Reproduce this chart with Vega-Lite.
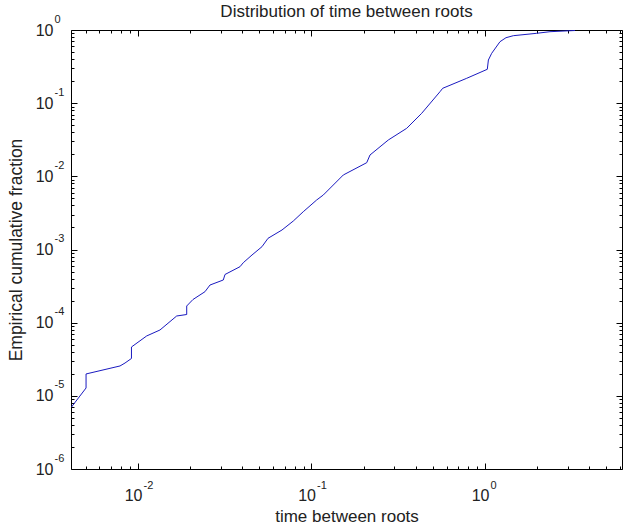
{
  "$schema": "https://vega.github.io/schema/vega-lite/v6.json",
  "width": 551,
  "height": 439,
  "autosize": {"type": "none"},
  "padding": {"left": 71, "top": 30, "right": 1, "bottom": 57},
  "background": "white",
  "config": {
    "view": {"stroke": null},
    "font": "Liberation Sans",
    "axis": {
      "domainColor": "#000000",
      "domainWidth": 1,
      "tickColor": "#000000",
      "tickWidth": 1,
      "grid": false,
      "labelFont": "Liberation Sans",
      "labelColor": "#222222",
      "labelFlush": false,
      "labelOverlap": false,
      "titleFont": "Liberation Sans",
      "titleFontWeight": "normal",
      "titleColor": "#222222"
    }
  },
  "title": {
    "text": "Distribution of time between roots",
    "font": "Liberation Sans",
    "fontSize": 17,
    "fontWeight": "normal",
    "color": "#222222",
    "anchor": "middle",
    "frame": "group",
    "offset": -8
  },
  "data": {
    "values": [
      {"t": 0.00414, "F": 0.00000704},
      {"t": 0.00502, "F": 0.0000128},
      {"t": 0.00502, "F": 0.0000199},
      {"t": 0.00788, "F": 0.0000256},
      {"t": 0.00842, "F": 0.0000281},
      {"t": 0.00917, "F": 0.0000324},
      {"t": 0.00917, "F": 0.0000465},
      {"t": 0.01122, "F": 0.0000658},
      {"t": 0.01339, "F": 0.0000794},
      {"t": 0.01671, "F": 0.0001234},
      {"t": 0.01909, "F": 0.0001293},
      {"t": 0.01909, "F": 0.000169},
      {"t": 0.02075, "F": 0.0002074},
      {"t": 0.02433, "F": 0.000265},
      {"t": 0.026, "F": 0.000327},
      {"t": 0.03102, "F": 0.000383},
      {"t": 0.03173, "F": 0.0004555},
      {"t": 0.03872, "F": 0.000582},
      {"t": 0.04045, "F": 0.00066},
      {"t": 0.0454, "F": 0.000841},
      {"t": 0.05184, "F": 0.001092},
      {"t": 0.05615, "F": 0.001422},
      {"t": 0.06761, "F": 0.001848},
      {"t": 0.07856, "F": 0.002452},
      {"t": 0.08969, "F": 0.003286},
      {"t": 0.1071, "F": 0.00475},
      {"t": 0.117, "F": 0.00556},
      {"t": 0.1525, "F": 0.01043},
      {"t": 0.2081, "F": 0.01536},
      {"t": 0.2174, "F": 0.01957},
      {"t": 0.2772, "F": 0.03138},
      {"t": 0.3538, "F": 0.04534},
      {"t": 0.4317, "F": 0.0727},
      {"t": 0.5503, "F": 0.1435},
      {"t": 0.5705, "F": 0.1597},
      {"t": 0.7844, "F": 0.2187},
      {"t": 1.031, "F": 0.2904},
      {"t": 1.046, "F": 0.389},
      {"t": 1.093, "F": 0.4803},
      {"t": 1.22, "F": 0.6921},
      {"t": 1.321, "F": 0.7846},
      {"t": 1.456, "F": 0.8357},
      {"t": 1.986, "F": 0.9014},
      {"t": 2.369, "F": 0.9479},
      {"t": 3.302, "F": 0.984}
    ]
  },
  "layer": [
    {
      "mark": {"type": "line", "color": "#1a1ac0", "strokeWidth": 1, "interpolate": "linear"},
      "encoding": {
        "x": {
          "field": "t",
          "type": "quantitative",
          "scale": {"type": "log", "domain": [0.004111, 6.16], "nice": false, "zero": false},
          "axis": {
            "orient": "bottom",
            "title": "time between roots",
            "titleFontSize": 17,
            "titlePadding": 2,
            "values": [0.005, 0.006, 0.007, 0.008, 0.009, 0.01, 0.02, 0.03, 0.04, 0.05, 0.06, 0.07, 0.08, 0.09, 0.1, 0.2, 0.3, 0.4, 0.5, 0.6, 0.7, 0.8, 0.9, 1, 2, 3, 4, 5, 6],
            "labelExpr": "indexof([1,0.1,0.01], datum.value) >= 0 ? '10' : ''",
            "labelFontSize": 16,
            "labelAlign": "right",
            "labelBaseline": "alphabetic",
            "labelOffset": 4,
            "labelPadding": 37,
            "tickSize": {"condition": {"test": "indexof([1,0.1,0.01], datum.value) >= 0", "value": -6}, "value": -3}
          }
        },
        "y": {
          "field": "F",
          "type": "quantitative",
          "scale": {"type": "log", "domain": [0.000001, 1], "nice": false, "zero": false},
          "axis": {
            "orient": "left",
            "title": "Empirical cumulative fraction",
            "titleFontSize": 17.5,
            "titlePadding": 10,
            "values": [0.000001, 0.000002, 0.000003, 0.000004, 0.000005, 0.000006, 0.000007, 0.000008, 0.000009, 0.00001, 0.00002, 0.00003, 0.00004, 0.00005, 0.00006, 0.00007, 0.00008, 0.00009, 0.0001, 0.0002, 0.0003, 0.0004, 0.0005, 0.0006, 0.0007, 0.0008, 0.0009, 0.001, 0.002, 0.003, 0.004, 0.005, 0.006, 0.007, 0.008, 0.009, 0.01, 0.02, 0.03, 0.04, 0.05, 0.06, 0.07, 0.08, 0.09, 0.1, 0.2, 0.3, 0.4, 0.5, 0.6, 0.7, 0.8, 0.9, 1],
            "labelExpr": "indexof([1,0.1,0.01,0.001,0.0001,0.00001,0.000001], datum.value) >= 0 ? '10' : ''",
            "labelFontSize": 16,
            "labelAlign": "right",
            "labelBaseline": "alphabetic",
            "labelOffset": 5,
            "labelPadding": 24,
            "tickSize": {"condition": {"test": "indexof([1,0.1,0.01,0.001,0.0001,0.00001,0.000001], datum.value) >= 0", "value": -6}, "value": -3}
          }
        }
      }
    },
    {
      "mark": {"type": "line", "strokeOpacity": 0},
      "encoding": {
        "x": {
          "field": "t",
          "type": "quantitative",
          "scale": {"type": "log", "domain": [0.004111, 6.16], "nice": false, "zero": false},
          "axis": {
            "orient": "bottom",
            "title": null,
            "domain": false,
            "ticks": true,
            "tickSize": 0,
            "tickOpacity": 0,
            "values": [0.01, 0.1, 1],
            "labelExpr": "datum.value == 0.01 ? '-2' : datum.value == 0.1 ? '-1' : '0'",
            "labelFontSize": 11,
            "labelAlign": "left",
            "labelBaseline": "alphabetic",
            "labelOffset": 5,
            "labelPadding": 19
          }
        },
        "y": {
          "field": "F",
          "type": "quantitative",
          "scale": {"type": "log", "domain": [0.000001, 1], "nice": false, "zero": false},
          "axis": {
            "orient": "left",
            "title": null,
            "domain": false,
            "ticks": true,
            "tickSize": 0,
            "tickOpacity": 0,
            "values": [0.000001, 0.00001, 0.0001, 0.001, 0.01, 0.1, 1],
            "labelExpr": "datum.value == 1 ? '0' : datum.value == 0.1 ? '-1' : datum.value == 0.01 ? '-2' : datum.value == 0.001 ? '-3' : datum.value == 0.0001 ? '-4' : datum.value == 0.00001 ? '-5' : '-6'",
            "labelFontSize": 11,
            "labelAlign": "left",
            "labelBaseline": "alphabetic",
            "labelOffset": -8,
            "labelPadding": 17
          }
        }
      }
    },
    {
      "mark": {"type": "line", "strokeOpacity": 0},
      "encoding": {
        "x": {
          "field": "t",
          "type": "quantitative",
          "scale": {"type": "log", "domain": [0.004111, 6.16], "nice": false, "zero": false},
          "axis": {
            "orient": "top",
            "title": null,
            "labels": false,
            "values": [0.005, 0.006, 0.007, 0.008, 0.009, 0.01, 0.02, 0.03, 0.04, 0.05, 0.06, 0.07, 0.08, 0.09, 0.1, 0.2, 0.3, 0.4, 0.5, 0.6, 0.7, 0.8, 0.9, 1, 2, 3, 4, 5, 6],
            "tickSize": {"condition": {"test": "indexof([1,0.1,0.01], datum.value) >= 0", "value": -6}, "value": -3}
          }
        },
        "y": {
          "field": "F",
          "type": "quantitative",
          "scale": {"type": "log", "domain": [0.000001, 1], "nice": false, "zero": false},
          "axis": {
            "orient": "right",
            "title": null,
            "labels": false,
            "values": [0.000001, 0.000002, 0.000003, 0.000004, 0.000005, 0.000006, 0.000007, 0.000008, 0.000009, 0.00001, 0.00002, 0.00003, 0.00004, 0.00005, 0.00006, 0.00007, 0.00008, 0.00009, 0.0001, 0.0002, 0.0003, 0.0004, 0.0005, 0.0006, 0.0007, 0.0008, 0.0009, 0.001, 0.002, 0.003, 0.004, 0.005, 0.006, 0.007, 0.008, 0.009, 0.01, 0.02, 0.03, 0.04, 0.05, 0.06, 0.07, 0.08, 0.09, 0.1, 0.2, 0.3, 0.4, 0.5, 0.6, 0.7, 0.8, 0.9, 1],
            "tickSize": {"condition": {"test": "indexof([1,0.1,0.01,0.001,0.0001,0.00001,0.000001], datum.value) >= 0", "value": -6}, "value": -3}
          }
        }
      }
    }
  ],
  "resolve": {"axis": {"x": "independent", "y": "independent"}}
}
